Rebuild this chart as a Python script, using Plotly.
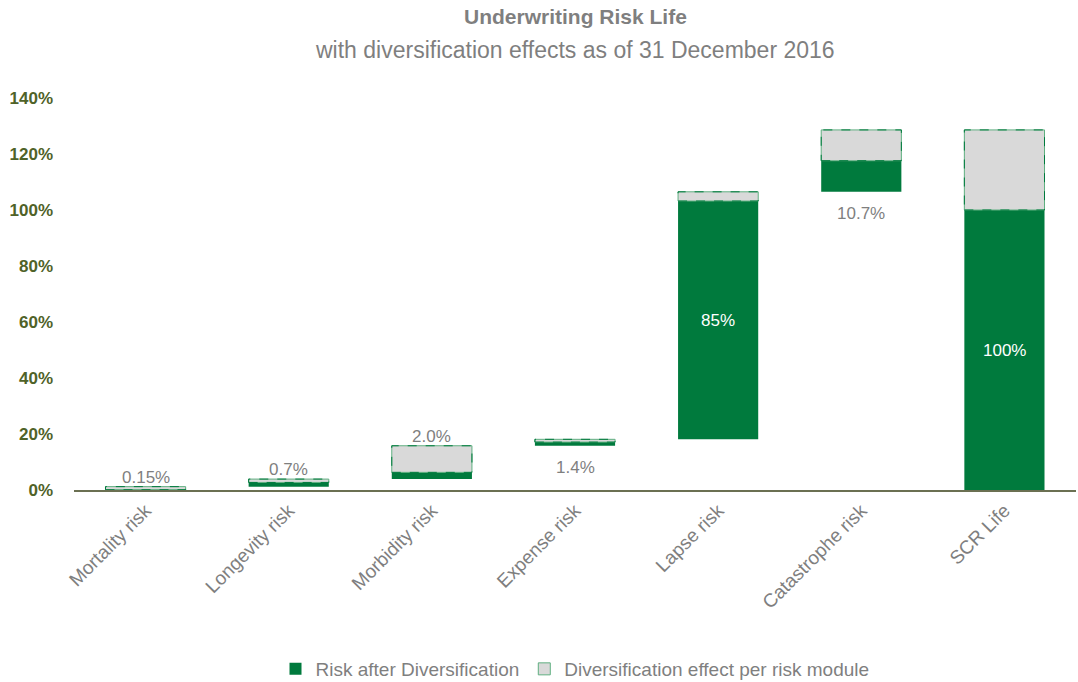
import plotly.graph_objects as go

categories = ["Mortality risk", "Longevity risk", "Morbidity risk", "Expense risk",
              "Lapse risk", "Catastrophe risk", "SCR Life"]
base_values = [0.0, 1.2, 3.9, 15.8, 18.1, 106.5, 0.0]
after_div = [0.1, 1.5, 2.4, 1.3, 85.1, 11.1, 100.0]
div_effect = [1.1, 1.2, 9.5, 1.0, 3.3, 11.0, 28.6]
labels = ["0.15%", "0.7%", "2.0%", "1.4%", "85%", "10.7%", "100%"]
label_place = ["above", "above", "above", "below", "inside", "below", "inside"]

GREEN = "#007A3D"
GRAY = "#D9D9D9"
TXT = "#7F7F7F"
FONT = "Liberation Sans, Arial"
BAR_W = 0.56

gray_base = [b + g for b, g in zip(base_values, after_div)]
tops = [b + g + d for b, g, d in zip(base_values, after_div, div_effect)]

fig = go.Figure()
fig.add_trace(go.Bar(
    x=categories, y=after_div, base=base_values, width=BAR_W,
    name="Risk after Diversification",
    marker=dict(color=GREEN, line=dict(width=0)),
))
fig.add_trace(go.Bar(
    x=categories, y=div_effect, base=gray_base, width=BAR_W,
    name="Diversification effect per risk module",
    marker=dict(color=GRAY, line=dict(width=1, color="#5FAF80")),
))

# dashed borders around diversification segments
for i in range(len(categories)):
    fig.add_shape(type="rect", xref="x", yref="y",
                  x0=i - BAR_W / 2, x1=i + BAR_W / 2,
                  y0=gray_base[i], y1=tops[i],
                  line=dict(color=GREEN, width=1, dash="dash"),
                  fillcolor="rgba(0,0,0,0)", layer="above")

# data labels
for i, place in enumerate(label_place):
    if place == "above":
        y, ya, ys, col = tops[i], "bottom", -2, TXT
    elif place == "below":
        y, ya, ys, col = base_values[i], "top", -10, TXT
    else:
        y, ya, ys, col = base_values[i] + after_div[i] / 2, "middle", 0, "white"
    fig.add_annotation(x=categories[i], y=y, xref="x", yref="y", text=labels[i],
                       showarrow=False, yanchor=ya, yshift=ys,
                       font=dict(size=17, color=col, family=FONT))

plot_top, plot_bottom = 98, 490
H = 682

def paper_y(px):
    return 1 + (plot_top - px) / (plot_bottom - plot_top)

# title
fig.add_annotation(x=0.5, y=paper_y(17), xref="paper", yref="paper", yanchor="middle",
                   text="<b>Underwriting Risk Life</b>", showarrow=False,
                   font=dict(size=21, color="#7F7F7F", family=FONT))
fig.add_annotation(x=0.5, y=paper_y(50), xref="paper", yref="paper", yanchor="middle",
                   text="with diversification effects as of 31 December 2016", showarrow=False,
                   font=dict(size=23, color="#7F7F7F", family=FONT))

fig.update_layout(
    width=1078, height=H,
    barmode="overlay",
    plot_bgcolor="white", paper_bgcolor="white",
    margin=dict(l=74, r=2, t=plot_top, b=H - plot_bottom, autoexpand=False),
    font=dict(family=FONT, color=TXT, size=15),
    xaxis=dict(
        tickangle=-45, tickfont=dict(size=19, color=TXT),
        showline=True, linecolor="#6B7052", linewidth=2,
        showgrid=False, ticks="", automargin=False,
    ),
    yaxis=dict(
        range=[0, 140], dtick=20, ticksuffix="%",
        tickfont=dict(size=17, color="#4F6228", family=FONT, weight="bold"),
        showgrid=False, zeroline=False, showline=False,
        ticklabelstandoff=20, automargin=False,
    ),
    legend=dict(
        orientation="h", x=0.5, xanchor="center", y=paper_y(669), yanchor="middle",
        font=dict(size=19, color=TXT), traceorder="normal",
        itemwidth=30,
    ),
)

fig.write_html("out.html", config={"displayModeBar": False},
               post_script="document.body.style.margin='0';document.body.style.overflow='hidden';")
